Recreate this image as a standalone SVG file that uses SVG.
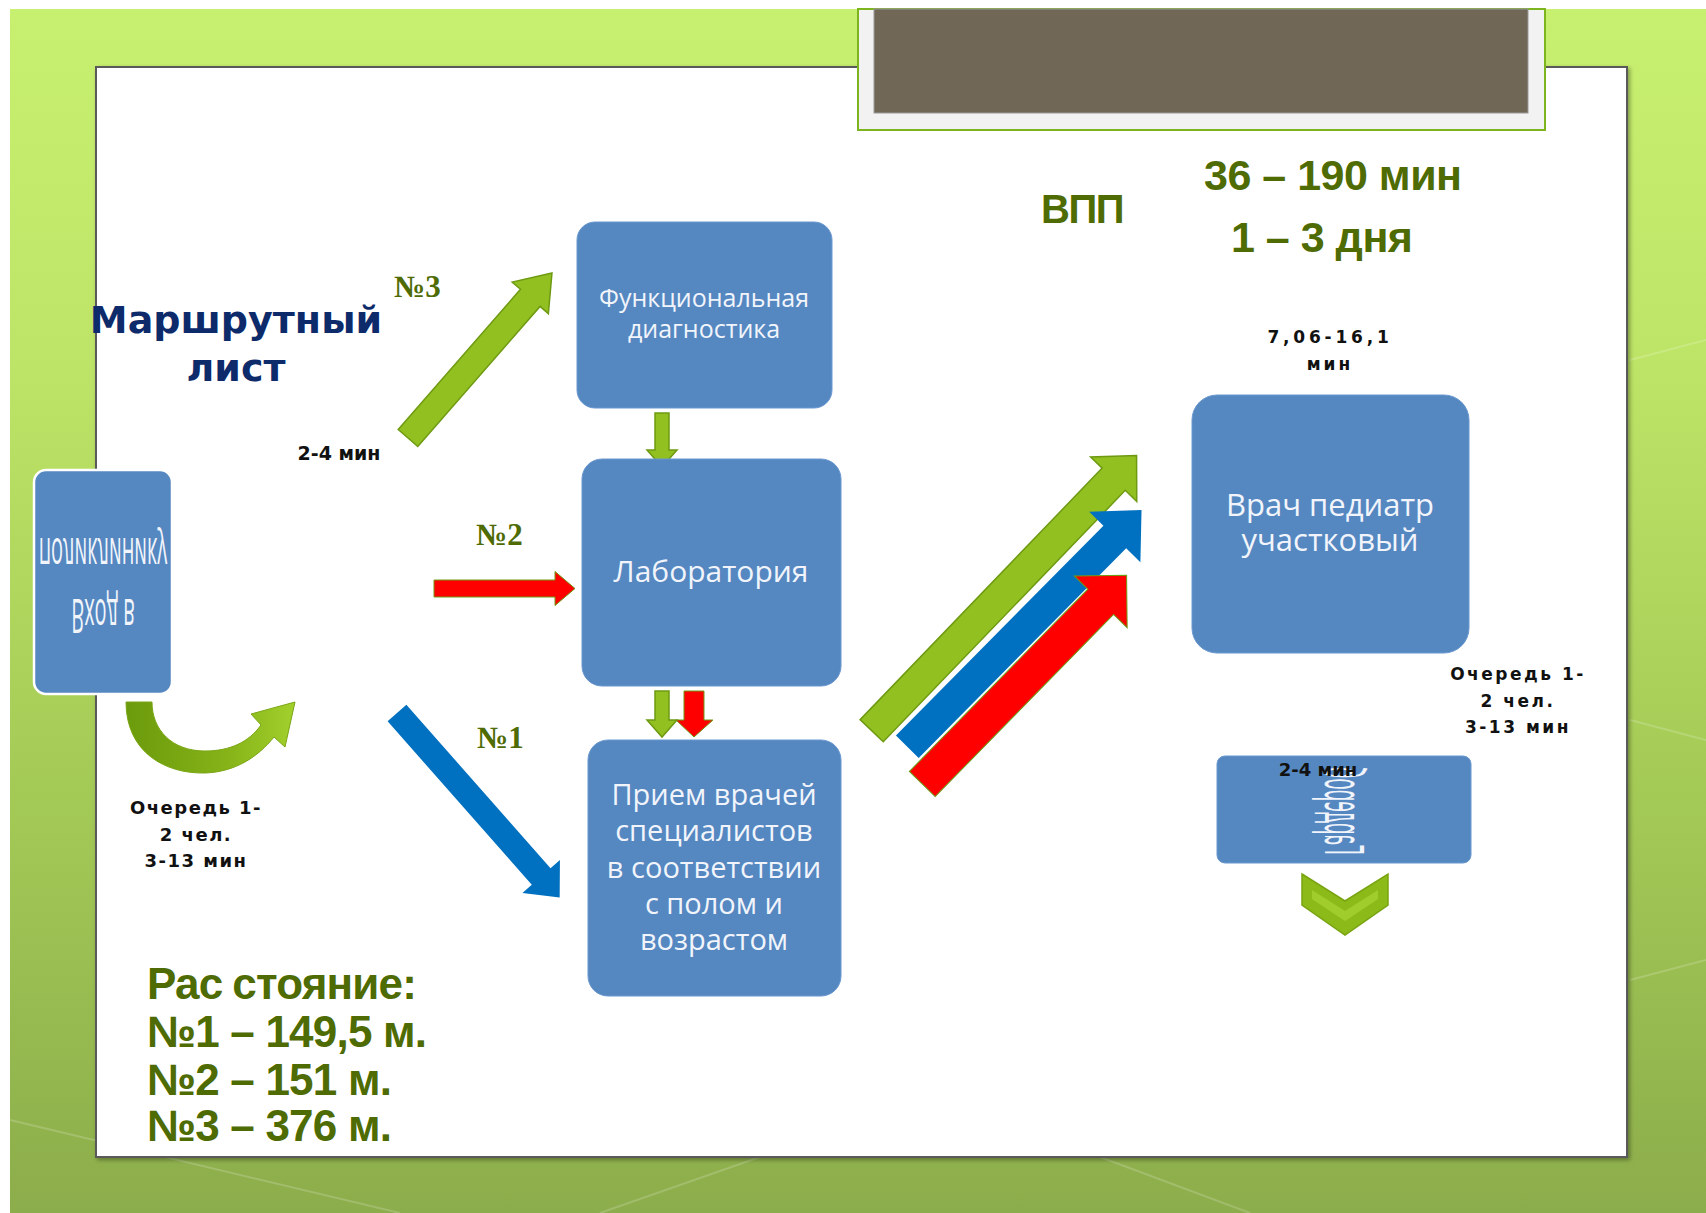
<svg xmlns="http://www.w3.org/2000/svg" width="1706" height="1213" viewBox="0 0 1706 1213">
<defs>
<linearGradient id="bg" x1="0" y1="0" x2="0" y2="1">
<stop offset="0" stop-color="#c8f070"/>
<stop offset="0.3" stop-color="#bde466"/>
<stop offset="0.65" stop-color="#a4ca56"/>
<stop offset="1" stop-color="#8cad4b"/>
</linearGradient>
<linearGradient id="curv" x1="0" y1="0" x2="1" y2="0">
<stop offset="0" stop-color="#6b9a0c"/>
<stop offset="0.6" stop-color="#86b318"/>
<stop offset="1" stop-color="#a2d02c"/>
</linearGradient>
<filter id="sh" x="-5%" y="-5%" width="110%" height="110%">
<feDropShadow dx="2" dy="2" stdDeviation="2" flood-color="#000" flood-opacity="0.35"/>
</filter>
</defs>
<style>
.box{fill:#5587c1;stroke:#6a98cf;stroke-width:1}
.bt{font-family:"Open Sans","Noto Sans",sans-serif;fill:#f1f5fb;text-anchor:middle}
.gn{font-family:"Liberation Serif",serif;font-weight:bold;font-size:31px;fill:#4e6b04}
.bk{font-family:"DejaVu Sans",sans-serif;font-weight:bold;fill:#111;text-anchor:middle}
.gt{font-family:"Liberation Sans",sans-serif;font-weight:bold;fill:#4e6b04}
.ag{fill:#92c020;stroke:#6e9a12;stroke-width:1.5}
.ab{fill:#0070c0}
.ar{fill:#ff0000;stroke:#6e9a12;stroke-width:1}
</style>
<rect width="1706" height="1213" fill="#ffffff"/>
<rect x="10" y="9" width="1696" height="1204" fill="url(#bg)"/>
<g opacity="0.18" stroke="#ffffff" stroke-width="2" fill="none">
<path d="M10,1120 L400,1213"/><path d="M1630,360 L1706,340"/><path d="M1630,720 L1706,740"/><path d="M1630,980 L1706,960"/><path d="M600,1213 L760,1157"/><path d="M1100,1157 L1250,1213"/>
</g>
<rect x="96" y="67" width="1531" height="1090" fill="#ffffff" stroke="#5a5a5a" stroke-width="2" filter="url(#sh)"/>
<g id="titlebox">
<rect x="858" y="9" width="687" height="121" fill="#f2f2f2" stroke="#7db51f" stroke-width="2"/>
<rect x="874" y="9" width="654" height="104" fill="#706757" stroke="#9a9a9a" stroke-width="1"/>
</g>
<g id="labels">
<text x="236" y="333" font-family="DejaVu Sans,sans-serif" font-weight="bold" font-size="38" fill="#0d2b6b" text-anchor="middle">Маршрутный</text>
<text x="236" y="381" font-family="DejaVu Sans,sans-serif" font-weight="bold" font-size="38" fill="#0d2b6b" text-anchor="middle">лист</text>
<text class="gn" x="394" y="297">№3</text>
<text class="gn" x="476" y="545">№2</text>
<text class="gn" x="477" y="748">№1</text>
<text class="bk" x="339" y="460" font-size="19">2-4 мин</text>
<text class="bk" x="196" y="814" font-size="18" letter-spacing="1.5">Очередь 1-</text>
<text class="bk" x="196" y="841" font-size="18" letter-spacing="1.5">2 чел.</text>
<text class="bk" x="196" y="867" font-size="18" letter-spacing="1.5">3-13 мин</text>
<text class="gt" x="1041" y="223" font-size="40" letter-spacing="-1.5">ВПП</text>
<text class="gt" x="1204" y="190" font-size="43" letter-spacing="-0.5">36 – 190 мин</text>
<text class="gt" x="1231" y="252" font-size="43" letter-spacing="-0.5">1 – 3 дня</text>
<text class="bk" x="1330" y="343" font-size="17" letter-spacing="3.8">7,06-16,1</text>
<text class="bk" x="1330" y="370" font-size="17" letter-spacing="3">мин</text>
<text class="bk" x="1518" y="680" font-size="17" letter-spacing="2.5">Очередь 1-</text>
<text class="bk" x="1518" y="707" font-size="17" letter-spacing="2.5">2 чел.</text>
<text class="bk" x="1518" y="733" font-size="17" letter-spacing="2.5">3-13 мин</text>
<text class="gt" x="147" y="999" font-size="44" letter-spacing="-0.8">Рас<tspan dx="10">стояние:</tspan></text>
<text class="gt" x="147" y="1047" font-size="44" letter-spacing="-0.8">№1 – 149,5 м.</text>
<text class="gt" x="147" y="1095" font-size="44" letter-spacing="-0.8">№2 – 151 м.</text>
<text class="gt" x="147" y="1141" font-size="44" letter-spacing="-0.8">№3 – 376 м.</text>
</g>
<g id="connectors">
<path d="M126,702 C126,752 165,774 205,773 C235,772 258,757 274,737 L285,747 L295,702 L251,714 L261,725 C249,742 230,751 205,751 C172,751 152,730 152,702 Z" fill="url(#curv)" stroke="#7aa614" stroke-width="1"/>
<polygon class="ag" transform="translate(408,438) rotate(-48.9)" points="0,-13 186,-13 186,-24 219,0 186,24 186,13 0,13"/>
<polygon class="ar" transform="translate(434,588.5)" points="0,-8.5 121,-8.5 121,-17 141,0 121,17 121,8.5 0,8.5"/>
<polygon class="ab" transform="translate(397,713) rotate(48.6)" points="0,-12.5 218,-12.5 218,-25 246,0 218,25 218,12.5 0,12.5"/>
<polygon class="ag" points="655,413 669,413 669,450 677,450 662,467 647,450 655,450"/>
<polygon class="ag" points="655,691 669,691 669,720 677,720 662,737 647,720 655,720"/>
<polygon class="ar" points="684,691 704,691 704,720 713,720 694,737 676,720 684,720"/>
<polygon class="ag" transform="translate(871.7,730.7) rotate(-46.1)" points="0,-16 349,-16 349,-32 382,0 349,32 349,16 0,16"/>
<polygon class="ab" transform="translate(907.3,746.7) rotate(-45.3)" points="0,-16 295,-16 295,-36 333,0 295,36 295,16 0,16"/>
<polygon class="ar" transform="translate(922.3,784) rotate(-45.6)" points="0,-18 255,-18 255,-37 292,0 255,37 255,18 0,18"/>
<polygon points="1302,874 1345,901 1388,874 1388,905 1345,935 1302,905" fill="#8cba18" stroke="#79a412" stroke-width="1.5"/>
<polygon points="1312,890 1345,911 1378,890 1378,899 1345,921 1312,899" fill="#a6d232" opacity="0.8"/>
</g>
<g id="entry">
<rect x="34" y="470" width="138" height="224" rx="12" class="box" style="stroke:#ffffff;stroke-width:2.5"/>
<g transform="translate(103,582) scale(1,-2.4)">
<text class="bt" x="0" y="18.5" font-size="20" font-family="Liberation Sans,sans-serif">поликлинику</text>
<text class="bt" x="0" y="-7" font-size="20" font-family="Liberation Sans,sans-serif">Вход в</text>
</g>
</g>
<g id="func">
<rect x="577" y="222" width="255" height="186" rx="18" class="box"/>
<text class="bt" x="704" y="307" font-size="25">Функциональная</text>
<text class="bt" x="704" y="338" font-size="25">диагностика</text>
</g>
<g id="lab">
<rect x="582" y="459" width="259" height="227" rx="20" class="box"/>
<text class="bt" x="711" y="582" font-size="30">Лаборатория</text>
</g>
<g id="priem">
<rect x="588" y="740" width="253" height="256" rx="20" class="box"/>
<text class="bt" x="714" y="805" font-size="29">Прием врачей</text>
<text class="bt" x="714" y="841" font-size="29">специалистов</text>
<text class="bt" x="714" y="878" font-size="29">в соответствии</text>
<text class="bt" x="714" y="914" font-size="29">с полом  и</text>
<text class="bt" x="714" y="950" font-size="29">возрастом</text>
</g>
<g id="pediatr">
<rect x="1192" y="395" width="277" height="258" rx="25" class="box"/>
<text class="bt" x="1330" y="516" font-size="31">Врач педиатр</text>
<text class="bt" x="1330" y="551" font-size="31">участковый</text>
</g>
<g id="garderob">
<rect x="1217" y="756" width="254" height="107" rx="8" class="box"/>
<g transform="translate(1325,811) matrix(0,-1,-1,0,0,0) scale(1,2.9)">
<text class="bt" x="0" y="0" font-size="19" font-family="Liberation Sans,sans-serif">Гардероб</text>
</g>
<text class="bk" x="1318" y="776" font-size="18">2-4 мин</text>
</g>
</svg>
